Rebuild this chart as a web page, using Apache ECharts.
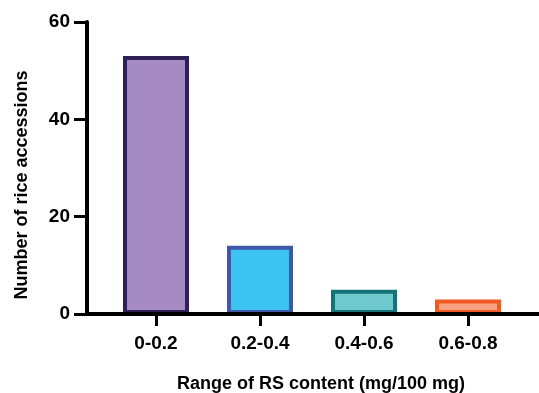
<!DOCTYPE html>
<html>
<head>
<meta charset="utf-8">
<script src="https://cdn.jsdelivr.net/npm/echarts@6/dist/echarts.min.js"></script>
<style>
html,body{margin:0;padding:0;background:#fff;}
#chart{width:539px;height:393px;}
</style>
</head>
<body>
<div id="chart"></div>
<script>
const categories = ['0-0.2', '0.2-0.4', '0.4-0.6', '0.6-0.8'];
const counts = [53, 14, 5, 3];
const yTicks = [0, 20, 40, 60];
const xTitle = 'Range of RS content (mg/100 mg)';
const yTitle = 'Number of rice accessions';

const fills = ['#a68ac2', '#3cc3f0', '#6ec8cc', '#f7a180'];
const borders = ['#2e1f57', '#3f58a8', '#137378', '#f25a24'];
const FONT = '"Liberation Sans", Arial, Helvetica, sans-serif';
const yMin = yTicks[0], yMax = yTicks[yTicks.length - 1], yStep = yTicks[1] - yTicks[0];

const chart = echarts.init(document.getElementById('chart'), null, {renderer: 'canvas'});
chart.setOption({
  animation: false,
  backgroundColor: '#fff',
  grid: [
    {left: 87, right: 0, top: 22, height: 292, containLabel: false, outerBoundsMode: 'none'},
    {left: 104, width: 416, top: 22, height: 292, containLabel: false, outerBoundsMode: 'none'},
    {left: 74, width: 13, top: 22, height: 292, containLabel: false, outerBoundsMode: 'none'}
  ],
  xAxis: [
    {
      gridIndex: 0, type: 'value', min: 0, max: 1, z: 5,
      axisLine: {show: true, onZero: false, lineStyle: {color: '#000', width: 4}},
      axisTick: {show: false}, axisLabel: {show: false}, splitLine: {show: false}
    },
    {
      gridIndex: 1, type: 'category', data: categories, z: 5,
      axisLine: {show: false},
      axisTick: {show: true, alignWithLabel: true, length: 12, lineStyle: {color: '#000', width: 3}},
      axisLabel: {color: '#000', fontFamily: FONT, fontWeight: 'bold', fontSize: 19, margin: 20},
      name: xTitle, nameLocation: 'middle', nameGap: 61,
      nameTextStyle: {color: '#000', fontFamily: FONT, fontWeight: 'bold', fontSize: 18, padding: [0, 0, 0, 18]}
    },
    {
      gridIndex: 2, type: 'value', min: 0, max: 1, show: false
    }
  ],
  yAxis: [
    {
      gridIndex: 0, type: 'value', min: yMin, max: yMax, interval: yStep, z: 5,
      axisLine: {show: true, onZero: false, lineStyle: {color: '#000', width: 4, cap: 'round'}},
      axisTick: {show: false},
      axisLabel: {color: '#000', fontFamily: FONT, fontWeight: 'bold', fontSize: 19, margin: 17},
      splitLine: {show: false},
      name: yTitle, nameLocation: 'middle', nameGap: 56, nameRotate: 90,
      nameTextStyle: {color: '#000', fontFamily: FONT, fontWeight: 'bold', fontSize: 18, padding: [0, 34, 0, 0]}
    },
    {
      gridIndex: 1, type: 'value', min: yMin, max: yMax, interval: yStep,
      show: false, splitLine: {show: false}
    },
    {
      gridIndex: 2, type: 'value', min: yMin, max: yMax, interval: yStep, show: true, z: 5,
      axisLine: {show: false}, axisTick: {show: false}, axisLabel: {show: false},
      splitLine: {show: true, lineStyle: {color: '#000', width: 3, type: 'solid'}}
    }
  ],
  series: [{
    type: 'bar', xAxisIndex: 1, yAxisIndex: 1, barWidth: 66, z: 2,
    data: counts.map((v, i) => ({
      value: v,
      itemStyle: {color: fills[i], borderColor: borders[i], borderWidth: 4}
    }))
  }]
});
</script>
</body>
</html>
